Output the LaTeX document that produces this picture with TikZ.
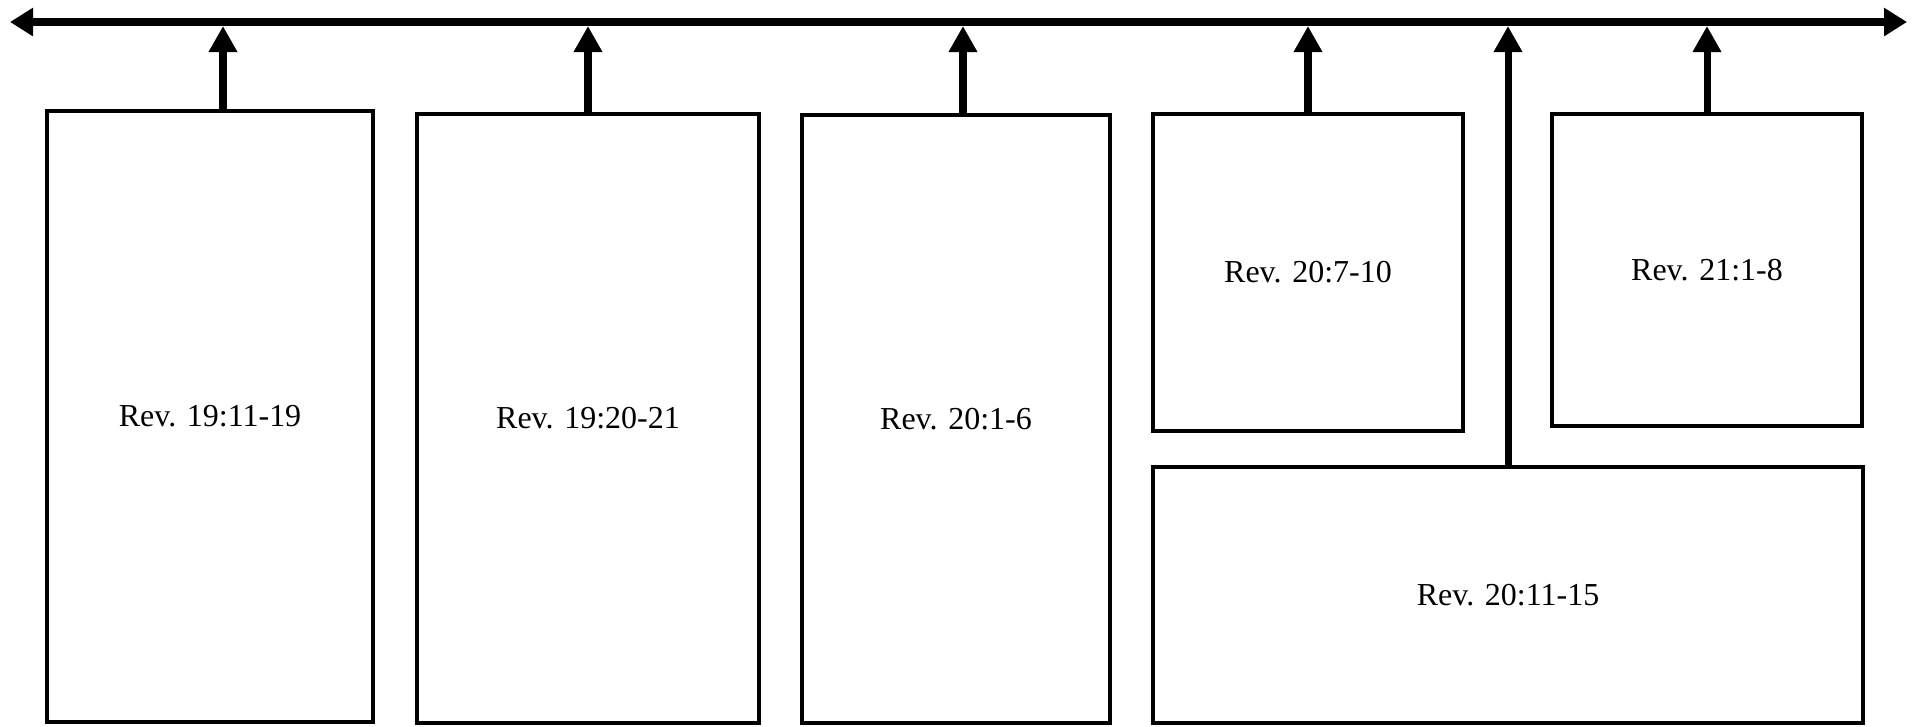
\documentclass[tikz,border=0pt]{standalone}
\usepackage{fontspec}
\setmainfont{Liberation Serif}
\usetikzlibrary{arrows.meta}

\tikzset{
  verse/.style={draw, line width=1.4pt, inner sep=0pt, font=\fontsize{9.1}{11}\selectfont},
  timeline/.style={line width=2.2pt, arrows={Triangle[width=0.27cm,length=0.23cm]-Triangle[width=0.27cm,length=0.23cm]}},
  link/.style={line width=2pt, arrows={-Triangle[width=0.27cm,length=0.26cm]}}
}

\begin{document}
\begin{tikzpicture}
        \useasboundingbox (0,0) rectangle (19.19,-7.26);
        % Draw the time line
        \coordinate (start) at (0.10,-0.22);
        \coordinate (end) at (19.07,-0.22);
        \coordinate (top) at (0,-0.26);
        \draw [timeline] (start) -- (end);
        % Passages
        \node [verse, minimum width=3.26cm, minimum height=6.11cm] (rev1911) at (2.10,-4.165) {Rev. 19:11-19};
        \node [verse, minimum width=3.42cm, minimum height=6.09cm] (rev1920) at (5.88,-4.185) {Rev. 19:20-21};
        \node [verse, minimum width=3.08cm, minimum height=6.08cm] (rev2001) at (9.56,-4.19) {Rev. 20:1-6};
        \node [verse, minimum width=3.10cm, minimum height=3.17cm] (rev2007) at (13.08,-2.725) {Rev. 20:7-10};
        \node [verse, minimum width=3.10cm, minimum height=3.12cm] (rev2101) at (17.07,-2.70) {Rev. 21:1-8};
        \node [verse, minimum width=7.10cm, minimum height=2.56cm] (rev2011) at (15.08,-5.95) {Rev. 20:11-15};
        % Arrows up to the time line
        \coordinate (a1) at ([xshift=0.13cm]rev1911.north);
        \coordinate (a3) at ([xshift=0.07cm]rev2001.north);
        \draw [link] (a1) -- (a1 |- top);
        \draw [link] (rev1920.north) -- (rev1920.north |- top);
        \draw [link] (a3) -- (a3 |- top);
        \draw [link] (rev2007.north) -- (rev2007.north |- top);
        \draw [link] (rev2101.north) -- (rev2101.north |- top);
        \draw [link] (rev2011.north) -- (rev2011.north |- top);
      \end{tikzpicture}
\end{document}
